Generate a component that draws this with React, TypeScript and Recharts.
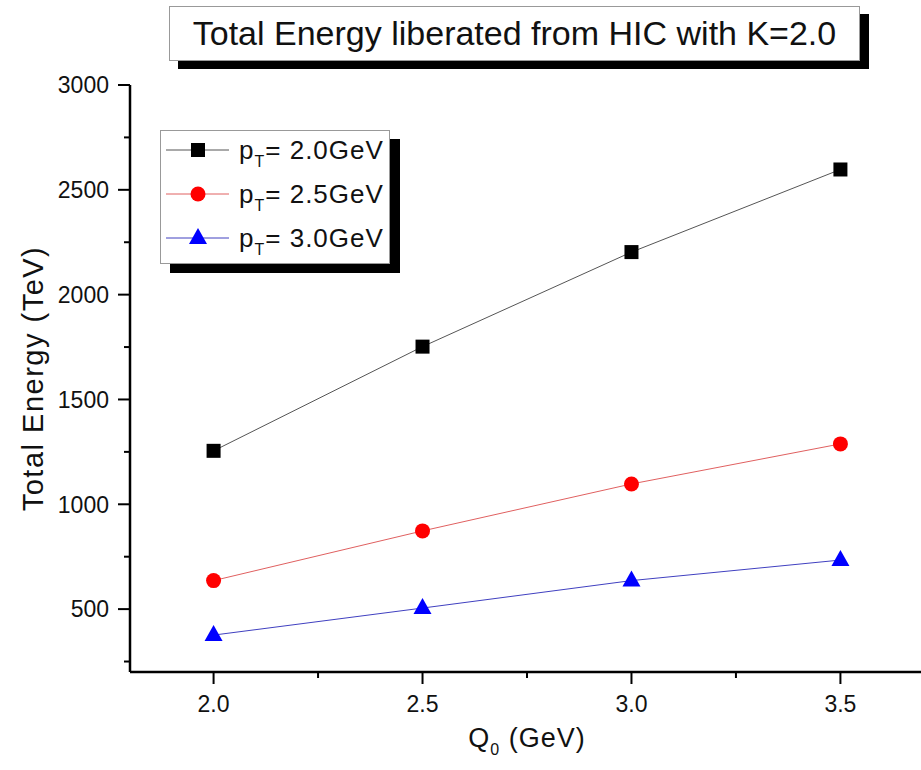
import React from "react";
import { Label, Line, LineChart, XAxis, YAxis } from "recharts";

const FONT = '"Liberation Sans", Arial, Helvetica, sans-serif';

// Q0 (GeV) values on the x axis
const q0Values = [2.0, 2.5, 3.0, 3.5];

// total energy (TeV) for each pT
const pt20Values = [1255, 1752, 2203, 2597];
const pt25Values = [636, 873, 1097, 1288];
const pt30Values = [376, 505, 636, 734];

const xMajorTicks = [2.0, 2.5, 3.0, 3.5];
const xMinorTicks = [2.25, 2.75, 3.25];
const yMajorTicks = [500, 1000, 1500, 2000, 2500, 3000];
const yMinorTicks = [250, 750, 1250, 1750, 2250, 2750];

const xDomain = [1.8, 3.7];
const yDomain = [200, 3000];

const titleText = "Total Energy liberated from HIC with K=2.0";

const seriesList = [
  { key: "pt20", pt: "2.0GeV", marker: "square", fill: "#000000", stroke: "#555555" },
  { key: "pt25", pt: "2.5GeV", marker: "circle", fill: "#ff0000", stroke: "#e06060" },
  { key: "pt30", pt: "3.0GeV", marker: "triangle", fill: "#0000ff", stroke: "#4040c0" },
];

const data = q0Values.map((q, i) => ({
  q,
  pt20: pt20Values[i],
  pt25: pt25Values[i],
  pt30: pt30Values[i],
}));

const xTicks = [...xMajorTicks, ...xMinorTicks].sort((a, b) => a - b);
const yTicks = [...yMajorTicks, ...yMinorTicks].sort((a, b) => a - b);

function Marker({ type, cx, cy, fill }: { type: string; cx: number; cy: number; fill: string }) {
  if (type === "square") return <rect x={cx - 7} y={cy - 7} width={14} height={14} fill={fill} />;
  if (type === "circle") return <circle cx={cx} cy={cy} r={7.5} fill={fill} />;
  return <polygon points={`${cx},${cy - 10} ${cx + 9},${cy + 6} ${cx - 9},${cy + 6}`} fill={fill} />;
}

const LeftTick = (props: any) => {
  const { x, y, payload } = props;
  const major = yMajorTicks.includes(payload.value);
  const len = major ? 12 : 6;
  return (
    <g>
      <line x1={x - len} x2={x} y1={y} y2={y} stroke="#000" strokeWidth={2} />
      {major && (
        <text x={x - 21} y={y} dy="0.36em" textAnchor="end" fontSize={23} fontFamily={FONT} fill="#111">
          {payload.value}
        </text>
      )}
    </g>
  );
};

const RightTick = (props: any) => {
  const { x, y, payload } = props;
  const len = yMajorTicks.includes(payload.value) ? 12 : 6;
  return <line x1={x - len} x2={x} y1={y} y2={y} stroke="#000" strokeWidth={2} />;
};

const BottomTick = (props: any) => {
  const { x, y, payload } = props;
  const major = xMajorTicks.includes(payload.value);
  const len = major ? 12 : 6;
  return (
    <g>
      <line x1={x} x2={x} y1={y} y2={y + len} stroke="#000" strokeWidth={2} />
      {major && (
        <text x={x} y={y + 40} textAnchor="middle" fontSize={23} fontFamily={FONT} fill="#111">
          {Number(payload.value).toFixed(1)}
        </text>
      )}
    </g>
  );
};

const TopTick = (props: any) => {
  const { x, y, payload } = props;
  const len = xMajorTicks.includes(payload.value) ? 12 : 6;
  return <line x1={x} x2={x} y1={y} y2={y + len} stroke="#000" strokeWidth={2} />;
};

function TitleBox() {
  return (
    <div
      style={{
        position: "absolute",
        left: 169,
        top: 6,
        width: 689,
        height: 53,
        background: "#fff",
        border: "1px solid #999",
        boxShadow: "9px 8px 0 #000",
        display: "flex",
        alignItems: "center",
        justifyContent: "center",
        fontFamily: FONT,
        fontSize: 34,
        color: "#111",
        whiteSpace: "nowrap",
      }}
    >
      {titleText}
    </div>
  );
}

function LegendBox() {
  return (
    <div
      style={{
        position: "absolute",
        left: 160,
        top: 130,
        width: 228,
        height: 132,
        background: "#fff",
        border: "1px solid #999",
        boxShadow: "10px 9px 0 #000",
      }}
    >
      {seriesList.map((s, i) => (
        <div
          key={s.key}
          style={{ position: "absolute", left: 0, top: 4 + i * 44, width: 228, height: 30 }}
        >
          <svg width={75} height={30} style={{ position: "absolute", left: 0, top: 0 }}>
            <line x1={5} x2={68} y1={15} y2={15} stroke={s.stroke} strokeWidth={1} />
            <Marker type={s.marker} cx={37} cy={15} fill={s.fill} />
          </svg>
          <div
            style={{
              position: "absolute",
              left: 78,
              top: 0,
              lineHeight: "30px",
              fontFamily: FONT,
              fontSize: 26,
              letterSpacing: 1,
              color: "#111",
              whiteSpace: "nowrap",
            }}
          >
            p<sub style={{ fontSize: 16, verticalAlign: "-8px" }}>T</sub>= {s.pt}
          </div>
        </div>
      ))}
    </div>
  );
}

export default function App() {
  return (
    <div
      style={{
        position: "absolute",
        left: 0,
        top: 0,
        width: 921,
        height: 770,
        overflow: "hidden",
        background: "#fff",
      }}
    >
      <LineChart width={930} height={770} data={data} margin={{ top: 85, right: 6, bottom: 0, left: 0 }}>
        <XAxis
          xAxisId="bottom"
          dataKey="q"
          type="number"
          domain={xDomain}
          ticks={xTicks}
          interval={0}
          height={98}
          tickSize={0}
          tickMargin={0}
          tickLine={false}
          axisLine={{ stroke: "#000", strokeWidth: 2.5 }}
          tick={<BottomTick />}
        >
          <Label
            content={({ viewBox }: any) => (
              <text
                x={viewBox.x + viewBox.width / 2}
                y={viewBox.y + 75}
                textAnchor="middle"
                fontSize={27}
                letterSpacing={1}
                fontFamily={FONT}
                fill="#111"
              >
                <tspan>Q</tspan>
                <tspan fontSize={16} dy={8}>0</tspan>
                <tspan dy={-8}> (GeV)</tspan>
              </text>
            )}
          />
        </XAxis>
        <XAxis
          xAxisId="top"
          orientation="top"
          type="number"
          domain={xDomain}
          ticks={xTicks}
          interval={0}
          height={0}
          tickSize={0}
          tickMargin={0}
          tickLine={false}
          axisLine={{ stroke: "#000", strokeWidth: 2.5 }}
          tick={<TopTick />}
        />
        <YAxis
          yAxisId="left"
          type="number"
          domain={yDomain}
          ticks={yTicks}
          interval={0}
          width={130}
          tickSize={0}
          tickMargin={0}
          tickLine={false}
          axisLine={{ stroke: "#000", strokeWidth: 2.5 }}
          tick={<LeftTick />}
        >
          <Label
            content={({ viewBox }: any) => {
              const cx = viewBox.x + 33;
              const cy = viewBox.y + viewBox.height / 2;
              return (
                <text
                  x={cx}
                  y={cy}
                  transform={`rotate(-90 ${cx} ${cy})`}
                  textAnchor="middle"
                  dy="0.36em"
                  fontSize={29}
                  letterSpacing={1.5}
                  fontFamily={FONT}
                  fill="#111"
                >
                  Total Energy (TeV)
                </text>
              );
            }}
          />
        </YAxis>
        <YAxis
          yAxisId="right"
          orientation="right"
          type="number"
          domain={yDomain}
          ticks={yTicks}
          interval={0}
          width={0}
          tickSize={0}
          tickMargin={0}
          tickLine={false}
          axisLine={{ stroke: "#000", strokeWidth: 2.5 }}
          tick={<RightTick />}
        />
        {seriesList.map((s) => (
          <Line
            key={s.key}
            xAxisId="bottom"
            yAxisId="left"
            dataKey={s.key}
            stroke={s.stroke}
            strokeWidth={1}
            isAnimationActive={false}
            dot={(p: any) => (
              <Marker key={`${s.key}-${p.index}`} type={s.marker} cx={p.cx} cy={p.cy} fill={s.fill} />
            )}
            activeDot={false}
          />
        ))}
      </LineChart>
      <TitleBox />
      <LegendBox />
    </div>
  );
}
